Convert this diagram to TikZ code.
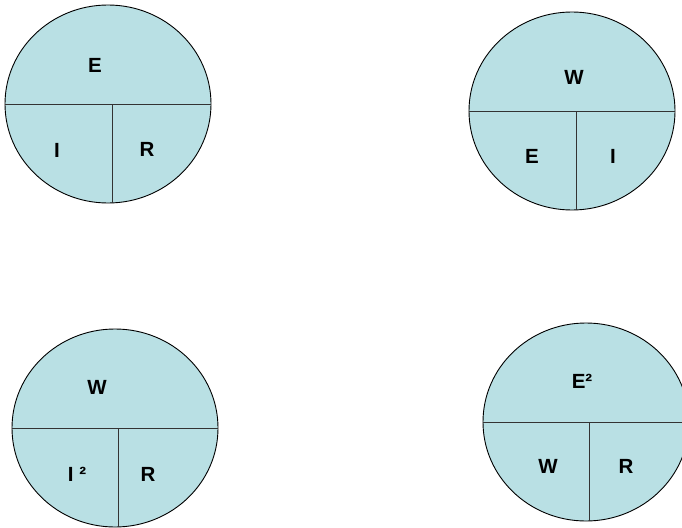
\documentclass[tikz,border=0pt]{standalone}
\usepackage{fontspec}
\setmainfont{Liberation Sans}
\usetikzlibrary{shapes.geometric,calc}
\definecolor{disc}{RGB}{185,224,228}
\tikzset{
  disk/.style={ellipse,draw=black,line width=0.9pt,fill=disc,minimum width=206pt,minimum height=198pt,inner sep=0pt},
  divider/.style={draw=black!80,line width=0.9pt},
  lbl/.style={font=\fontsize{20.5}{22}\selectfont\bfseries,inner sep=0pt}
}
\begin{document}
\begin{tikzpicture}[x=1pt,y=-1pt]
\useasboundingbox (0,0) rectangle (682,527);
\clip (0,0) rectangle (682,527);
% circle 1
\node[disk] (c1) at (108,104) {};
\draw[divider] (c1.west) -- (c1.east);
\coordinate (v1a) at (112,104);
\coordinate (v1b) at (112,202.9);
\draw[divider] (v1a) -- (v1b);
\node[lbl] (t1) at (95,65) {E};
\node[lbl] (t2) at (57,150) {I};
\node[lbl] (t3) at (147,149) {R};
% circle 2
\node[disk] (c2) at (572,111) {};
\draw[divider] (c2.west) -- (c2.east);
\coordinate (v2a) at (576,111);
\coordinate (v2b) at (576,209.9);
\draw[divider] (v2a) -- (v2b);
\node[lbl] (t4) at (574,77) {W};
\node[lbl] (t5) at (532,156) {E};
\node[lbl] (t6) at (613,156) {I};
% circle 3
\node[disk] (c3) at (115,428) {};
\draw[divider] (c3.west) -- (c3.east);
\coordinate (v3a) at (118,428);
\coordinate (v3b) at (118,527);
\draw[divider] (v3a) -- (v3b);
\node[lbl] (t7) at (97,387) {W};
\node[lbl] (t8) at (77,474) {I ²};
\node[lbl] (t9) at (148,474) {R};
% circle 4
\node[disk] (c4) at (586,422) {};
\draw[divider] (c4.west) -- (c4.east);
\coordinate (v4a) at (589,422);
\coordinate (v4b) at (589,520.9);
\draw[divider] (v4a) -- (v4b);
\node[lbl] (t10) at (582,381) {E²};
\node[lbl] (t11) at (548,466) {W};
\node[lbl] (t12) at (626,466) {R};
\end{tikzpicture}
\end{document}
